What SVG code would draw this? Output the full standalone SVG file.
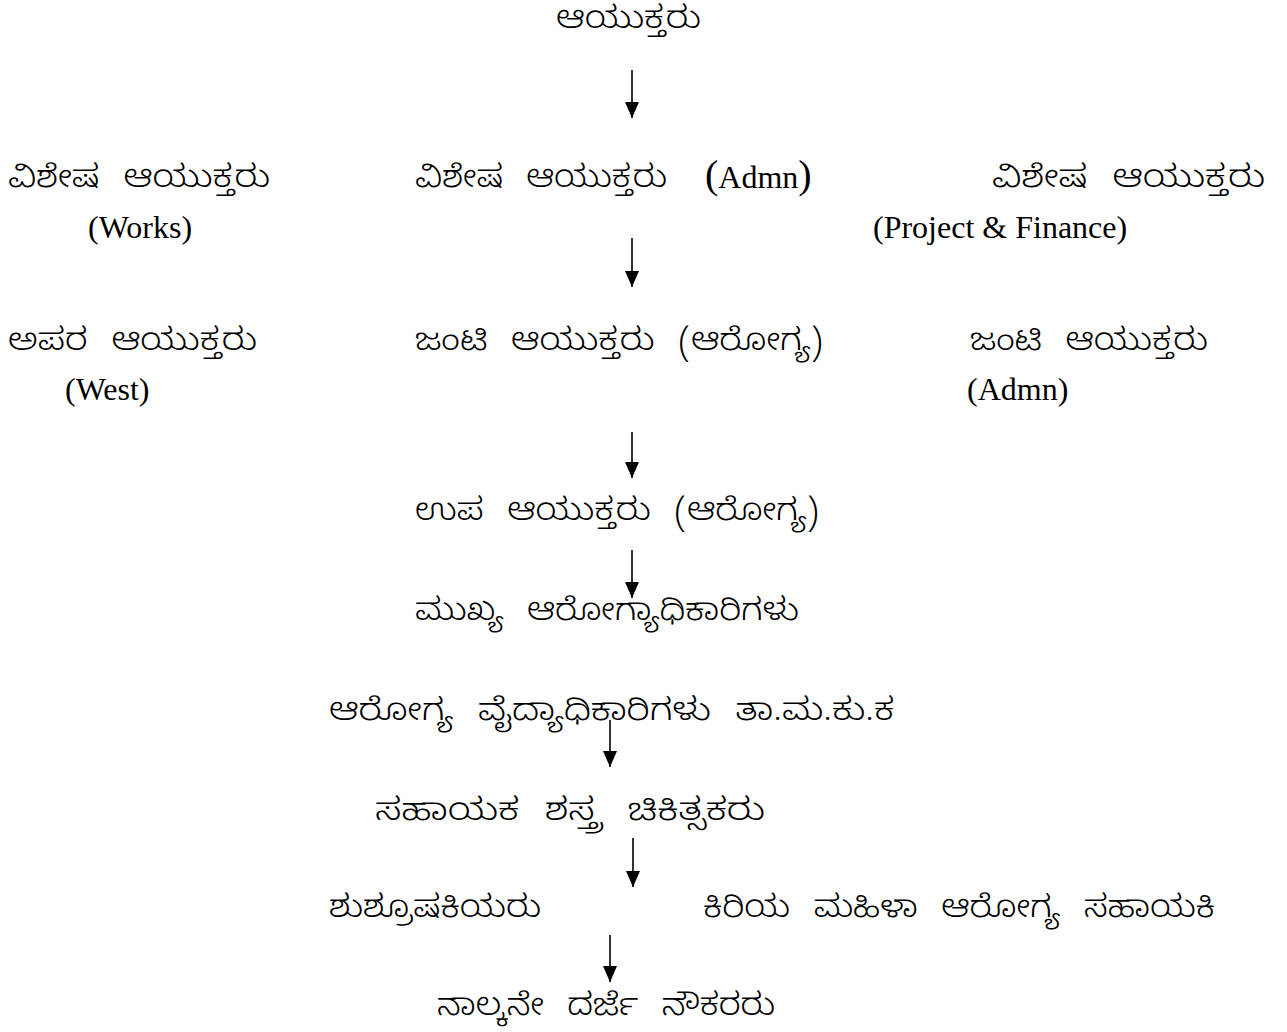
<svg xmlns="http://www.w3.org/2000/svg" width="1287" height="1032" viewBox="0 0 1287 1032">
<style>
.kn{font-family:"Noto Sans Kannada","Noto Sans",sans-serif;font-size:31px;font-weight:300;word-spacing:12px;fill:#000}
.en{font-family:"Liberation Serif",serif;font-size:32px;fill:#000}
.par{font-size:40px}
.arr{stroke:#000;stroke-width:1.6;fill:none;marker-end:url(#ah)}
</style>
<defs>
<marker id="ah" viewBox="0 0 16 14" refX="16" refY="7" markerWidth="16" markerHeight="14" markerUnits="userSpaceOnUse" orient="auto">
<path d="M0,0 L16,7 L0,14 Z" fill="#000"/>
</marker>
</defs>
<rect width="1287" height="1032" fill="#fff"/>
<g id="n1"><text class="kn" x="556" y="28" textLength="145" lengthAdjust="spacingAndGlyphs">ಆಯುಕ್ತರು</text></g>
<g id="n2"><text class="kn" x="8" y="187" textLength="262" lengthAdjust="spacingAndGlyphs">ವಿಶೇಷ ಆಯುಕ್ತರು</text><text class="en" x="88" y="238">(Works)</text></g>
<g id="n3"><text class="kn" x="415" y="187" textLength="252" lengthAdjust="spacingAndGlyphs">ವಿಶೇಷ ಆಯುಕ್ತರು</text><text class="en" x="705" y="188"><tspan class="par">(</tspan>Admn<tspan class="par">)</tspan></text></g>
<g id="n4"><text class="kn" x="992" y="187" textLength="273" lengthAdjust="spacingAndGlyphs">ವಿಶೇಷ ಆಯುಕ್ತರು</text><text class="en" x="873" y="238">(Project &amp; Finance)</text></g>
<g id="n5"><text class="kn" x="8" y="350" textLength="249" lengthAdjust="spacingAndGlyphs">ಅಪರ ಆಯುಕ್ತರು</text><text class="en" x="65" y="400">(West)</text></g>
<g id="n6"><text class="kn" x="415" y="350" textLength="408" lengthAdjust="spacingAndGlyphs">ಜಂಟಿ ಆಯುಕ್ತರು (ಆರೋಗ್ಯ)</text></g>
<g id="n7"><text class="kn" x="970" y="350" textLength="238" lengthAdjust="spacingAndGlyphs">ಜಂಟಿ ಆಯುಕ್ತರು</text><text class="en" x="967" y="400">(Admn)</text></g>
<g id="n8"><text class="kn" x="415" y="520" textLength="404" lengthAdjust="spacingAndGlyphs">ಉಪ ಆಯುಕ್ತರು (ಆರೋಗ್ಯ)</text></g>
<g id="n9"><text class="kn" x="415" y="620" textLength="384" lengthAdjust="spacingAndGlyphs">ಮುಖ್ಯ ಆರೋಗ್ಯಾಧಿಕಾರಿಗಳು</text></g>
<g id="n10"><text class="kn" x="329" y="720" textLength="565" lengthAdjust="spacingAndGlyphs">ಆರೋಗ್ಯ ವೈದ್ಯಾಧಿಕಾರಿಗಳು ತಾ.ಮ.ಕು.ಕ</text></g>
<g id="n11"><text class="kn" x="375" y="820" textLength="390" lengthAdjust="spacingAndGlyphs">ಸಹಾಯಕ ಶಸ್ತ್ರ ಚಿಕಿತ್ಸಕರು</text></g>
<g id="n12"><text class="kn" x="329" y="917" textLength="212" lengthAdjust="spacingAndGlyphs">ಶುಶ್ರೂಷಕಿಯರು</text></g>
<g id="n13"><text class="kn" x="703" y="917" textLength="512" lengthAdjust="spacingAndGlyphs">ಕಿರಿಯ ಮಹಿಳಾ ಆರೋಗ್ಯ ಸಹಾಯಕಿ</text></g>
<g id="n14"><text class="kn" x="437" y="1015" textLength="338" lengthAdjust="spacingAndGlyphs">ನಾಲ್ಕನೇ ದರ್ಜೆ ನೌಕರರು</text></g>
<g id="connectors">
<line class="arr" x1="632" y1="70" x2="632" y2="118"/>
<line class="arr" x1="632" y1="238" x2="632" y2="287"/>
<line class="arr" x1="632" y1="432" x2="632" y2="478"/>
<line class="arr" x1="632" y1="550" x2="632" y2="598"/>
<line class="arr" x1="610" y1="720" x2="610" y2="767"/>
<line class="arr" x1="633" y1="838" x2="633" y2="887"/>
<line class="arr" x1="610" y1="935" x2="610" y2="982"/>
</g>
</svg>
